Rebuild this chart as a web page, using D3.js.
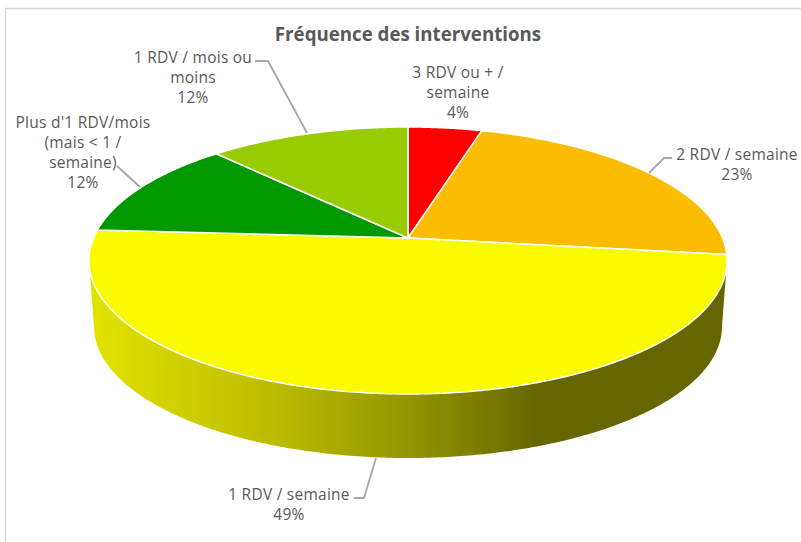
<!DOCTYPE html>
<html><head><meta charset="utf-8">
<script src="https://cdn.jsdelivr.net/npm/d3@7/dist/d3.min.js"></script>
<style>html,body{margin:0;padding:0;background:#fff}svg{display:block}text{font-family:"Open Sans",sans-serif}</style>
</head><body><svg id="c" width="801" height="542"></svg>
<script>
const title = "Fréquence des interventions";
const categories = ["3 RDV ou + /\nsemaine","2 RDV / semaine","1 RDV / semaine","Plus d'1 RDV/mois\n(mais < 1 /\nsemaine)","1 RDV / mois ou\nmoins"];
const values = [4.4,22.6,49.0,12,12];
const colors = ["#ff0000","#fcbd00","#fbfb00","#009900","#99cc00"];

const svg = d3.select("#c");
// frame
svg.append("path").attr("d","M5.5 542V8.5H801").attr("fill","none").attr("stroke","#d9d9d9").attr("stroke-width",1.5);

// perspective disc: apex (408,238)
const ax=408, ay=238, k=0.1685, a=314.5, b=129.7;
function proj(t, s=1, dy=0){ const u=Math.sin(t), v=-Math.cos(t), d=1-k*v;
  return [ax+s*a*u/d, ay+dy+s*b*v/d]; }
const pie=d3.pie().sort(null).value(d=>d)(values);
const line=d3.line();
function arcPts(t0,t1,s,dy){ const n=Math.max(2,Math.ceil(Math.abs(t1-t0)/0.01));
  return d3.range(n+1).map(i=>proj(t0+(t1-t0)*i/n,s,dy)); }

const defs=svg.append("defs");
const grad=defs.append("linearGradient").attr("id","side").attr("gradientUnits","userSpaceOnUse")
  .attr("x1",96).attr("x2",723).attr("y1",0).attr("y2",0);
[[0,"#e2e200"],[0.3,"#b9b900"],[0.5,"#949400"],[0.705,"#666600"],[1,"#666600"]].forEach(([o,c])=>grad.append("stop").attr("offset",o).attr("stop-color",c));

// side wall: visible part of the yellow slice, between the disc's silhouette points
const y=pie[2];
const tRight=Math.max(y.startAngle,Math.acos(-k)), tLeft=Math.min(y.endAngle,2*Math.PI-Math.acos(-k));
svg.append("path").attr("fill","url(#side)")
  .attr("d",line(arcPts(tRight,tLeft,1,0).concat(arcPts(tLeft,tRight,0.984,66.5)))+"Z");

// top slices
svg.selectAll("path.s").data(pie).join("path").attr("class","s")
  .attr("fill",(d,i)=>colors[i]).attr("stroke","#fff").attr("stroke-width",1.5).attr("stroke-linejoin","round")
  .attr("d",d=>line([[ax,ay]].concat(arcPts(d.startAngle,d.endAngle,1,0)))+"Z");

// title
svg.append("text").attr("x",408).attr("y",41).attr("text-anchor","middle")
  .attr("font-size",18.7).attr("font-weight",700).attr("fill","#595959").text(title);

// leaders and labels
const labelPos=[[458,73],[737,155],[289,495],[83,123],[193,58]];
const leaders=[null,[[672,158],[664,158],[649,173]],[[354,498],[364,498],[376,458]],[[117,166],[140,187]],[[255,61],[268,61],[307,133]]];
svg.selectAll("path.l").data(leaders.filter(d=>d)).join("path").attr("class","l")
  .attr("d",line).attr("fill","none").attr("stroke","#a6a6a6").attr("stroke-width",1.8);
categories.forEach((c,i)=>{
  const lines=c.split("\n").concat([Math.round(values[i])+"%"]);
  const t=svg.append("text").attr("text-anchor","middle").attr("font-size",15.5).attr("letter-spacing",0.25).attr("fill","#595959");
  lines.forEach((s,j)=>t.append("tspan").attr("x",labelPos[i][0]).attr("y",labelPos[i][1]+5+j*20).text(s));
});
</script></body></html>
